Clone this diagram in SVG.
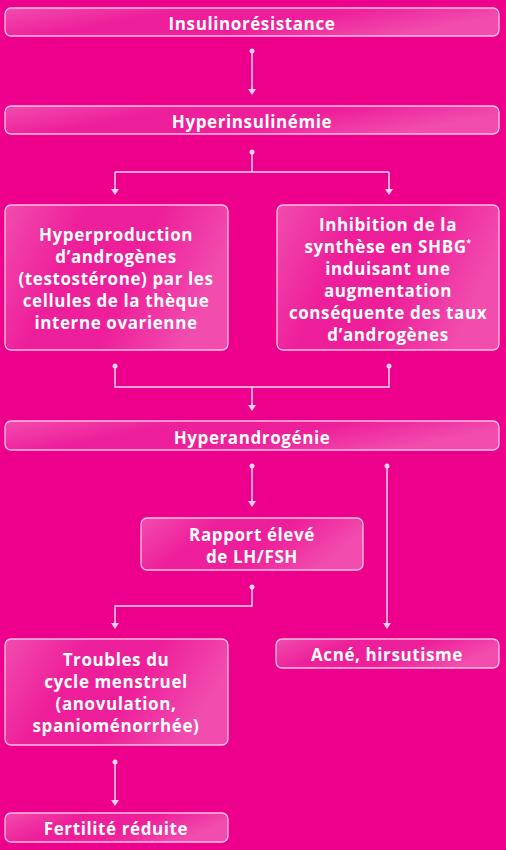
<svg xmlns="http://www.w3.org/2000/svg" width="506" height="850" viewBox="0 0 506 850">
<defs>
<linearGradient id="g" x1="0" y1="0" x2="1" y2="0.3">
<stop offset="0" stop-color="#fff" stop-opacity="0.30"/>
<stop offset="0.35" stop-color="#fff" stop-opacity="0.12"/>
<stop offset="0.65" stop-color="#fff" stop-opacity="0.12"/>
<stop offset="1" stop-color="#fff" stop-opacity="0.30"/>
</linearGradient>
</defs>
<style>
.box{fill:url(#g);stroke:#fbc0e0;stroke-width:1.3}
.t{font-family:"Open Sans","Liberation Sans",sans-serif;font-weight:700;font-size:17px;letter-spacing:0.6px;fill:#fff;text-anchor:middle}
.l{fill:none;stroke:#fbd3ea;stroke-width:1.5}
.a{fill:#fbd3ea}
</style>
<rect width="506" height="850" fill="#ec008c"/>
<g id="connectors">
<path class="l" d="M252,51 V93"/>
<circle class="a" cx="252" cy="51" r="2.5"/>
<path class="a" d="M248,89 L256,89 L252,95 Z"/>
<path class="l" d="M252,152 V172 M115,172 H389 M115,172 V193 M389,172 V193"/>
<circle class="a" cx="252" cy="152" r="2.5"/>
<path class="a" d="M111,189 L119,189 L115,195 Z M385,189 L393,189 L389,195 Z"/>
<path class="l" d="M115,366 V387 H389 V366 M252,387 V409"/>
<circle class="a" cx="115" cy="366" r="2.5"/>
<circle class="a" cx="389" cy="366" r="2.5"/>
<path class="a" d="M248,405 L256,405 L252,411 Z"/>
<path class="l" d="M252,466 V505 M387,466 V627"/>
<circle class="a" cx="252" cy="466" r="2.5"/>
<circle class="a" cx="387" cy="466" r="2.5"/>
<path class="a" d="M248,501 L256,501 L252,507 Z M383,623 L391,623 L387,629 Z"/>
<path class="l" d="M252,587 V606 H115 V627"/>
<circle class="a" cx="252" cy="587" r="2.5"/>
<path class="a" d="M111,623 L119,623 L115,629 Z"/>
<path class="l" d="M115,762 V804"/>
<circle class="a" cx="115" cy="762" r="2.5"/>
<path class="a" d="M111,800 L119,800 L115,806 Z"/>
</g>
<g id="n1"><rect class="box" x="5" y="8" width="494" height="28" rx="6"/><text class="t" x="252" y="29.5">Insulinorésistance</text></g>
<g id="n2"><rect class="box" x="5" y="106" width="494" height="28" rx="6"/><text class="t" x="252" y="127.5">Hyperinsulinémie</text></g>
<g id="n3"><rect class="box" x="5" y="205" width="223" height="145" rx="6"/>
<text class="t"><tspan x="116" y="241">Hyperproduction</tspan><tspan x="116" y="263">d’androgènes</tspan><tspan x="116" y="285">(testostérone) par les</tspan><tspan x="116" y="307">cellules de la thèque</tspan><tspan x="116" y="329">interne ovarienne</tspan></text></g>
<g id="n4"><rect class="box" x="277" y="205" width="222" height="145" rx="6"/>
<text class="t"><tspan x="388" y="231">Inhibition de la</tspan><tspan x="388" y="253">synthèse en SHBG<tspan font-size="8" dy="-7">*</tspan></tspan><tspan x="388" y="275">induisant une</tspan><tspan x="388" y="297">augmentation</tspan><tspan x="388" y="319">conséquente des taux</tspan><tspan x="388" y="341">d’androgènes</tspan></text></g>
<g id="n5"><rect class="box" x="5" y="421" width="494" height="29" rx="6"/><text class="t" x="252" y="443.5">Hyperandrogénie</text></g>
<g id="n6"><rect class="box" x="141" y="518" width="222" height="52" rx="6"/>
<text class="t"><tspan x="252" y="541">Rapport élevé</tspan><tspan x="252" y="563">de LH/FSH</tspan></text></g>
<g id="n7"><rect class="box" x="5" y="639" width="223" height="106" rx="6"/>
<text class="t"><tspan x="116" y="666">Troubles du</tspan><tspan x="116" y="688">cycle menstruel</tspan><tspan x="116" y="710">(anovulation,</tspan><tspan x="116" y="732">spanioménorrhée)</tspan></text></g>
<g id="n8"><rect class="box" x="276" y="639" width="223" height="29" rx="6"/><text class="t" x="387" y="661">Acné, hirsutisme</text></g>
<g id="n9"><rect class="box" x="5" y="813" width="223" height="29" rx="6"/><text class="t" x="116" y="835">Fertilité réduite</text></g>
</svg>
